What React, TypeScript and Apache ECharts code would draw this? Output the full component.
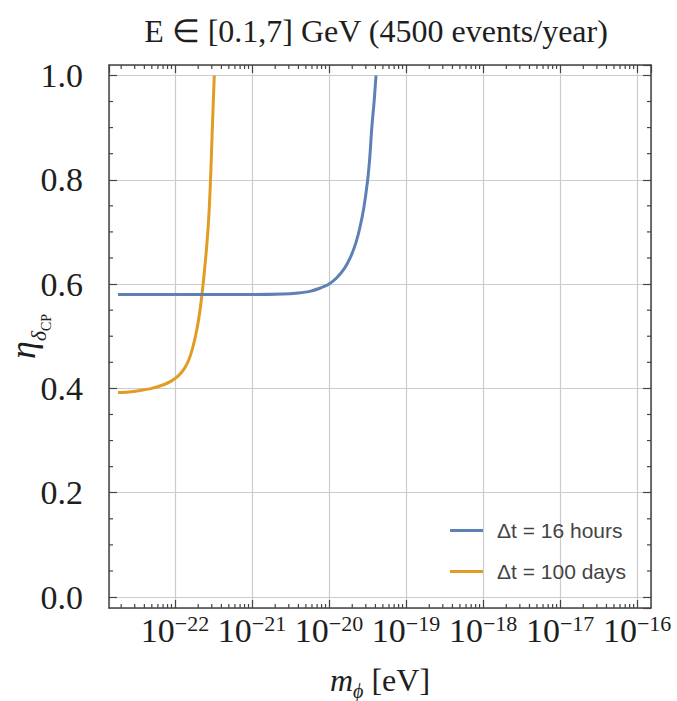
import React, { useEffect, useRef } from "react";
import * as echarts from "echarts";

// ---- data (x stored as log10 of m_phi in eV) ----
const blueName = "\u0394t = 16 hours";
const orangeName = "\u0394t = 100 days";

const blueLogM = [-22.74, -22.0, -21.0, -20.6, -20.4, -20.25, -20.12, -20.0, -19.9, -19.8, -19.72, -19.65, -19.6, -19.55, -19.5, -19.47, -19.445, -19.415, -19.39];
const blueEta = [0.580, 0.580, 0.580, 0.581, 0.583, 0.586, 0.592, 0.600, 0.612, 0.630, 0.652, 0.680, 0.708, 0.745, 0.798, 0.845, 0.900, 0.950, 1.0];

const orangeLogM = [-22.74, -22.6, -22.45, -22.3, -22.15, -22.05, -21.95, -21.88, -21.82, -21.77, -21.72, -21.68, -21.65, -21.62, -21.59, -21.565, -21.545, -21.53, -21.515, -21.49];
const orangeEta = [0.392, 0.393, 0.396, 0.400, 0.407, 0.414, 0.425, 0.438, 0.455, 0.478, 0.510, 0.545, 0.580, 0.622, 0.670, 0.720, 0.778, 0.835, 0.900, 1.0];

const xMajorExps = [-22, -21, -20, -19, -18, -17, -16];
const xMinorDecades = [-23, -22, -21, -20, -19, -18, -17, -16];
const xMinorMultipliers = [2, 3, 4, 5, 6, 7, 8, 9];
const yMinorTicks = [0.05, 0.1, 0.15, 0.25, 0.3, 0.35, 0.45, 0.5, 0.55, 0.65, 0.7, 0.75, 0.85, 0.9, 0.95];

const X_MIN = -22.857;
const X_MAX = -15.82;
const Y_MIN = -0.021;
const Y_MAX = 1.02;

const BLUE = "#5E81B5";
const ORANGE = "#E19C24";
const FRAME = "#444444";
const GRID = "#cccccc";
const TEXT = "#1e1e1e";
const SERIF = "'Liberation Serif', 'Times New Roman', serif";
const SANS = "'Liberation Sans', Arial, sans-serif";

const supMap: Record<string, string> = { "-": "\u2212" };

export default function App() {
  const ref = useRef<HTMLDivElement>(null);

  useEffect(() => {
    if (!ref.current) return;
    const chart = echarts.init(ref.current, undefined, { renderer: "svg" });

    const minorX: number[] = [];
    xMinorDecades.forEach((n) =>
      xMinorMultipliers.forEach((k) => {
        const v = n + Math.log10(k);
        if (v > X_MIN && v < X_MAX) minorX.push(v);
      })
    );

    const xLabel = (v: number) => {
      const r = Math.round(v);
      if (Math.abs(v - r) > 1e-6 || !xMajorExps.includes(r)) return "";
      const s = String(r).split("").map((c) => supMap[c] || c).join("");
      return `{b|10}{s|${s}}`;
    };
    const yLabel = (v: number) => {
      const r = Math.round(v * 5) / 5;
      if (Math.abs(v - r) > 1e-6) return "";
      return r.toFixed(1);
    };

    const tickStyle = { stroke: FRAME, lineWidth: 1.2 };

    chart.setOption({
      animation: false,
      graphic: [
        {
          type: "text",
          x: 376,
          y: 31,
          style: {
            text: "E \u2208 [0.1,7] GeV (4500 events/year)",
            font: `32px ${SERIF}`,
            fill: TEXT,
            textAlign: "center",
            textVerticalAlign: "middle",
          },
        },
      ],
      grid: { left: 109, top: 65, width: 542, height: 543, containLabel: false, outerBoundsMode: "none" },
      legend: {
        data: [
          { name: blueName, icon: "rect" },
          { name: orangeName, icon: "rect" },
        ],
        orient: "vertical",
        left: 450,
        top: 520,
        padding: 0,
        itemWidth: 33,
        itemHeight: 3,
        itemGap: 20,
        textStyle: { fontFamily: SANS, fontSize: 21, color: "#444", padding: [0, 0, 0, 9] },
      },
      xAxis: [
        {
          type: "value",
          min: X_MIN,
          max: X_MAX,
          position: "bottom",
          name: "{m|m}{p|\u03d5}{t| [eV]}",
          nameLocation: "middle",
          nameGap: 56,
          nameMoveOverlap: false,
          nameTextStyle: {
            rich: {
              m: { fontFamily: SERIF, fontStyle: "italic", fontSize: 32, color: TEXT },
              p: { fontFamily: SERIF, fontStyle: "italic", fontSize: 20, color: TEXT, verticalAlign: "bottom", padding: [0, 0, -5, 0] },
              t: { fontFamily: SERIF, fontSize: 32, color: TEXT },
            },
          },
          axisLine: { show: true, onZero: false, lineStyle: { color: FRAME, width: 1.5 } },
          axisTick: { show: true, inside: true, length: 8, lineStyle: { color: FRAME, width: 1.2 } },
          splitLine: { show: true, lineStyle: { color: GRID, width: 1.2 } },
          axisLabel: {
            show: true,
            margin: 4,
            formatter: xLabel,
            showMinLabel: false,
            showMaxLabel: false,
            rich: {
              b: { fontFamily: SERIF, fontSize: 34, color: TEXT, lineHeight: 36 },
              s: { fontFamily: SERIF, fontSize: 22, color: TEXT, verticalAlign: "top", lineHeight: 20 },
            },
          },
        },
        {
          type: "value",
          min: X_MIN,
          max: X_MAX,
          position: "top",
          axisLine: { show: true, onZero: false, lineStyle: { color: FRAME, width: 1.5 } },
          axisTick: { show: true, inside: true, length: 8, lineStyle: { color: FRAME, width: 1.2 } },
          splitLine: { show: false },
          axisLabel: { show: false },
        },
      ],
      yAxis: [
        {
          type: "value",
          min: Y_MIN,
          max: Y_MAX,
          position: "left",
          name: "{e|\u03b7}{d|\u03b4}{c|CP}",
          nameLocation: "middle",
          nameRotate: 90,
          nameGap: 68,
          nameMoveOverlap: false,
          nameTextStyle: {
            rich: {
              e: { fontFamily: SERIF, fontStyle: "italic", fontSize: 36, color: TEXT },
              d: { fontFamily: SERIF, fontStyle: "italic", fontSize: 22, color: TEXT, verticalAlign: "bottom", padding: [0, 0, -8, 0] },
              c: { fontFamily: SERIF, fontSize: 14, color: TEXT, verticalAlign: "bottom", padding: [0, 0, -12, 0] },
            },
          },
          axisLine: { show: true, onZero: false, lineStyle: { color: FRAME, width: 1.5 } },
          axisTick: { show: true, inside: true, length: 8, lineStyle: { color: FRAME, width: 1.2 } },
          splitLine: { show: true, lineStyle: { color: GRID, width: 1.2 } },
          axisLabel: {
            show: true,
            margin: 26,
            formatter: yLabel,
            showMinLabel: false,
            showMaxLabel: false,
            fontFamily: SERIF,
            fontSize: 34,
            color: TEXT,
          },
        },
        {
          type: "value",
          min: Y_MIN,
          max: Y_MAX,
          position: "right",
          axisLine: { show: true, onZero: false, lineStyle: { color: FRAME, width: 1.5 } },
          axisTick: { show: true, inside: true, length: 8, lineStyle: { color: FRAME, width: 1.2 } },
          splitLine: { show: false },
          axisLabel: { show: false },
        },
      ],
      series: [
        {
          name: blueName,
          type: "line",
          xAxisIndex: 0,
          yAxisIndex: 0,
          data: blueLogM.map((x, i) => [x, blueEta[i]]),
          showSymbol: false,
          symbol: "none",
          smooth: 0.3,
          lineStyle: { color: BLUE, width: 3 },
          itemStyle: { color: BLUE },
          z: 5,
        },
        {
          name: orangeName,
          type: "line",
          xAxisIndex: 0,
          yAxisIndex: 0,
          data: orangeLogM.map((x, i) => [x, orangeEta[i]]),
          showSymbol: false,
          symbol: "none",
          smooth: 0.3,
          lineStyle: { color: ORANGE, width: 3 },
          itemStyle: { color: ORANGE },
          z: 4,
        },
        {
          type: "custom",
          xAxisIndex: 0,
          yAxisIndex: 0,
          silent: true,
          data: minorX.map((v) => [v, 0.5]),
          encode: { x: 0, y: 1 },
          renderItem: (params: any, api: any) => {
            const cs = params.coordSys;
            const px = api.coord([api.value(0), 0.5])[0];
            return {
              type: "group",
              children: [
                { type: "line", shape: { x1: px, y1: cs.y + cs.height, x2: px, y2: cs.y + cs.height - 4 }, style: tickStyle },
                { type: "line", shape: { x1: px, y1: cs.y, x2: px, y2: cs.y + 4 }, style: tickStyle },
              ],
            };
          },
        },
        {
          type: "custom",
          xAxisIndex: 0,
          yAxisIndex: 0,
          silent: true,
          data: yMinorTicks.map((v) => [-20, v]),
          encode: { x: 0, y: 1 },
          renderItem: (params: any, api: any) => {
            const cs = params.coordSys;
            const py = api.coord([-20, api.value(1)])[1];
            return {
              type: "group",
              children: [
                { type: "line", shape: { x1: cs.x, y1: py, x2: cs.x + 4, y2: py }, style: tickStyle },
                { type: "line", shape: { x1: cs.x + cs.width, y1: py, x2: cs.x + cs.width - 4, y2: py }, style: tickStyle },
              ],
            };
          },
        },
      ],
    });

    return () => chart.dispose();
  }, []);

  return (
    <div
      ref={ref}
      style={{ position: "fixed", left: 0, top: 0, width: 677, height: 701, background: "#fff" }}
    />
  );
}
